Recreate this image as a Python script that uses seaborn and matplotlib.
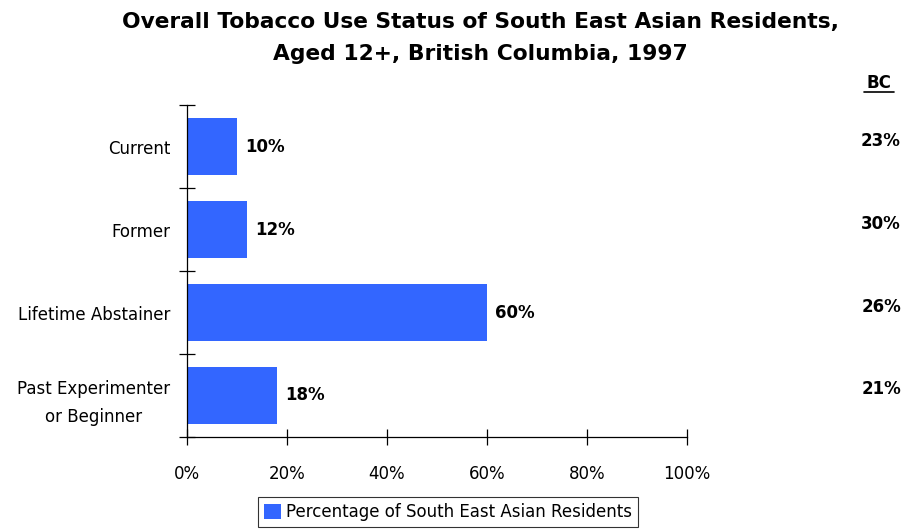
import matplotlib
matplotlib.use("Agg")
import matplotlib.pyplot as plt
import seaborn as sns
import pandas as pd
from matplotlib.ticker import FixedLocator

categories = ["Current", "Former", "Lifetime Abstainer", "Past Experimenter\nor Beginner"]
sea_values = [10, 12, 60, 18]
bc_values = [23, 30, 26, 21]
xticks = [0, 20, 40, 60, 80, 100]
xtick_labels = ["0%", "20%", "40%", "60%", "80%", "100%"]
series_name = "Percentage of South East Asian Residents"

sns.set_theme(style="white")
plt.rcParams['font.family'] = ['DejaVu Sans']
plt.rcParams['text.color'] = 'black'
plt.rcParams['xtick.color'] = 'black'
plt.rcParams['ytick.color'] = 'black'

df = pd.DataFrame({"cat": categories, "val": sea_values, "series": series_name})

fig = plt.figure(figsize=(9.04, 5.31), dpi=100)
ax = fig.add_axes([187/904, 1-437/531, 500/904, 332/531])
sns.barplot(data=df, y="cat", x="val", hue="series", palette=["#3366FF"],
            orient="h", width=0.68, ax=ax, saturation=1, legend=True, linewidth=0)

ax.set_xlim(0, 100)
ax.set_ylim(len(categories)-0.5, -0.5)
ax.set_xticks(xticks)
ax.set_xticklabels(xtick_labels, fontsize=12)
ax.set_xlabel("")
ax.set_ylabel("")
for s in ["top", "right"]:
    ax.spines[s].set_visible(False)
ax.spines["left"].set_color("black")
ax.spines["bottom"].set_color("black")
ax.spines["left"].set_linewidth(0.9)
ax.spines["bottom"].set_linewidth(0.9)

ax.set_yticks(range(len(categories)))
ax.set_yticklabels(categories, fontsize=12)
for lab in ax.get_yticklabels():
    lab.set_multialignment("center")
    lab.set_linespacing(1.75)
ax.tick_params(axis="y", which="major", labelsize=12, length=0, pad=12, labelcolor="black")
ax.yaxis.set_minor_locator(FixedLocator([i-0.5 for i in range(len(categories)+1)]))
ax.tick_params(axis="y", which="minor", direction="inout", length=12, width=0.9, color="black", left=True)
ax.tick_params(axis="x", which="major", direction="inout", length=12, width=0.9, color="black",
               bottom=True, pad=14, labelcolor="black")

for i, v in enumerate(sea_values):
    ax.text(v + 1.6, i, f"{v}%", va="center", ha="left", fontsize=12, fontweight="bold", color="black")

bc_y = [141, 224, 307, 389]
for y, v in zip(bc_y, bc_values):
    fig.text(901/904, 1-y/531, f"{v}%", ha="right", va="center", fontsize=12, fontweight="bold", color="black")
fig.text(879/904, 1-83/531, "BC", ha="center", va="center", fontsize=12, fontweight="bold", color="black")
fig.add_artist(plt.Line2D([864/904, 894/904], [1-92/531, 1-92/531], color="black", lw=1.2))

fig.text(480/904, 1-22/531, "Overall Tobacco Use Status of South East Asian Residents,",
         ha="center", va="center", fontsize=15.7, fontweight="bold", color="black")
fig.text(480/904, 1-54/531, "Aged 12+, British Columbia, 1997",
         ha="center", va="center", fontsize=15.7, fontweight="bold", color="black")

leg = ax.legend(loc="center", bbox_to_anchor=(448/904, 1-512/531), bbox_transform=fig.transFigure,
                frameon=True, fancybox=False, edgecolor="black", fontsize=12,
                handlelength=1.0, handleheight=1.0, handletextpad=0.3, borderpad=0.35)
leg.get_frame().set_linewidth(0.8)
for t in leg.get_texts():
    t.set_color("black")

fig.savefig("out.png", dpi=100)
